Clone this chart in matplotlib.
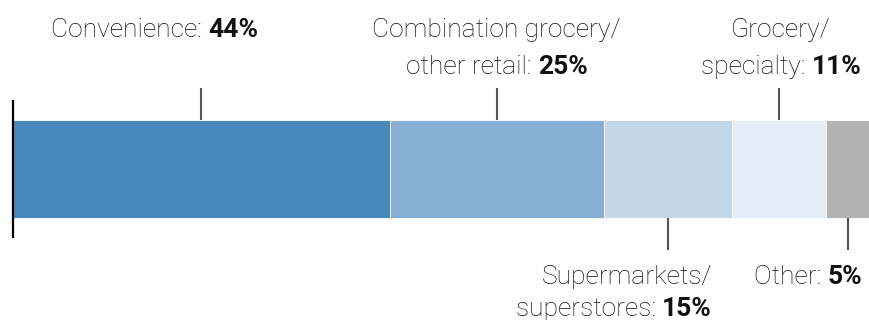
import matplotlib
matplotlib.use("Agg")
import matplotlib.pyplot as plt

categories = ["Convenience", "Combination grocery/\nother retail", "Supermarkets/\nsuperstores",
              "Grocery/\nspecialty", "Other"]
shares = [44, 25, 15, 11, 5]
colors = ["#4a89bb", "#86afd3", "#c2d7e8", "#e5eef6", "#b3b3b3"]
# label side (above/below), text anchor and horizontal offset from the tick in pixels
label_side = ["top", "top", "bottom", "top", "bottom"]
label_align = ["center", "center", "right", "center", "right"]
label_dx = [-47, 0, 44, 2, 15]

W, H, DPI = 870, 320, 100
fig = plt.figure(figsize=(W / DPI, H / DPI), dpi=DPI)
ax = fig.add_axes([0, 0, 1, 1])
x0_px, x1_px = 13, 869
ppu = (x1_px - x0_px) / 100.0
ax.set_xlim(-x0_px / ppu, (W - x0_px) / ppu)
ax.set_ylim(H, 0)
ax.axis("off")

bar_top, bar_bot = 120, 218
left = 0
centers = []
for s, c in zip(shares, colors):
    ax.barh((bar_top + bar_bot) / 2, s, left=left, height=bar_bot - bar_top,
            color=c, edgecolor="white", linewidth=0.6)
    centers.append(left + s / 2)
    left += s

ax.plot([0, 0], [100, 238], color="black", lw=1.6, solid_capstyle="butt")

FONT = ["Roboto", "DejaVu Sans"]
FS = 19
fig.canvas.draw()
renderer = fig.canvas.get_renderer()


def text_width(s, weight):
    t = ax.text(0, 0, s, fontsize=FS, family=FONT, fontweight=weight)
    w = t.get_window_extent(renderer).width
    t.remove()
    return w


top_baselines = [37, 74]
bottom_baselines = [284, 316]
for name, share, cx, side, align, dx in zip(categories, shares, centers,
                                            label_side, label_align, label_dx):
    lines = name.split("\n")
    lines[-1] = lines[-1] + ": "
    tick_x_px = x0_px + cx * ppu
    if side == "top":
        ax.plot([cx, cx], [88, bar_top], color="#555555", lw=1.5, solid_capstyle="butt")
        bases = top_baselines
    else:
        ax.plot([cx, cx], [bar_bot, 250], color="#555555", lw=1.5, solid_capstyle="butt")
        bases = bottom_baselines
    anchor_px = tick_x_px + dx
    n = len(lines)
    for i, ln in enumerate(lines):
        base = bases[i]
        is_last = i == n - 1
        bold = f"{share}%" if is_last else ""
        w_norm = text_width(ln, "light")
        w_bold = text_width(bold, "bold") if bold else 0
        total = w_norm + w_bold
        if align == "center":
            start = anchor_px - total / 2
        else:
            start = anchor_px - total
        sx = (start - x0_px) / ppu
        ax.text(sx, base, ln, fontsize=FS, family=FONT, fontweight="light",
                color="#111111", ha="left", va="baseline")
        if bold:
            bx = (start + w_norm - x0_px) / ppu
            ax.text(bx, base, bold, fontsize=FS, family=FONT, fontweight="bold",
                    color="#111111", ha="left", va="baseline")

fig.savefig("out.png", dpi=DPI)
